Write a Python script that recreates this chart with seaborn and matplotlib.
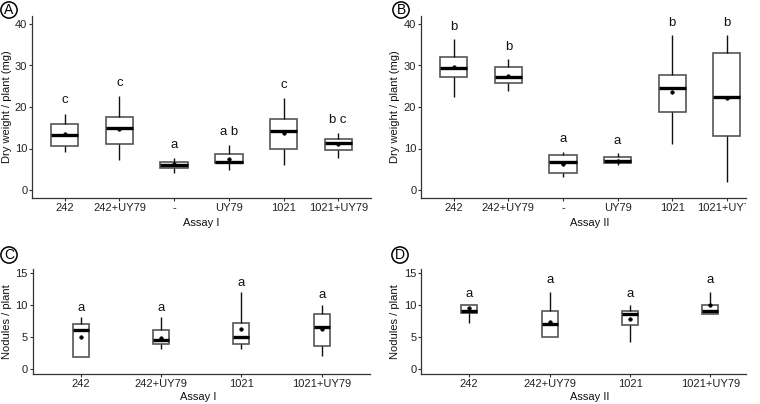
import numpy as np
import pandas as pd
import matplotlib
matplotlib.use("Agg")
import matplotlib.pyplot as plt
from matplotlib.transforms import Bbox, TransformedBbox, blended_transform_factory
import seaborn as sns

sns.set_style("white")
plt.rcParams['font.family'] = ['Liberation Sans', 'DejaVu Sans']

# ---------------- data ----------------
cats_dw = ["242", "242+UY79", "-", "UY79", "1021", "1021+UY79"]
cats_nod = ["242", "242+UY79", "1021", "1021+UY79"]

# Panel A: dry weight, Assay I
a_min = [9.2, 7.2, 4.0, 4.7, 6.1, 7.6]
a_q1 = [10.7, 11.2, 5.4, 6.6, 9.9, 9.6]
a_med = [13.2, 15.0, 6.0, 6.8, 14.1, 11.4]
a_q3 = [16.0, 17.5, 6.8, 8.6, 17.0, 12.4]
a_max = [18.4, 22.6, 7.6, 10.8, 22.1, 13.7]
a_mean = [13.5, 14.6, 6.3, 7.5, 13.8, 11.0]
a_letters = ["c", "c", "a", "a b", "c", "b c"]

# Panel B: dry weight, Assay II
b_min = [22.5, 23.9, 3.2, 6.0, 11.0, 2.0]
b_q1 = [27.3, 25.7, 4.2, 6.4, 18.9, 13.0]
b_med = [29.3, 27.3, 6.7, 7.0, 24.5, 22.5]
b_q3 = [32.1, 29.7, 8.4, 7.9, 27.7, 32.9]
b_max = [36.3, 31.5, 9.2, 8.8, 37.3, 37.3]
b_mean = [29.7, 27.5, 6.3, 7.1, 23.7, 22.1]
b_letters = ["b", "b", "a", "a", "b", "b"]

# Panel C: nodules, Assay I
c_min = [2.0, 3.1, 3.1, 2.1]
c_q1 = [2.0, 3.9, 3.9, 3.6]
c_med = [6.1, 4.6, 5.1, 6.6]
c_q3 = [7.1, 6.1, 7.3, 8.6]
c_max = [8.1, 8.1, 12.1, 10.1]
c_mean = [5.1, 4.9, 6.25, 6.3]
c_letters = ["a", "a", "a", "a"]

# Panel D: nodules, Assay II
d_min = [7.2, 5.0, 4.2, 8.6]
d_q1 = [8.8, 5.0, 6.9, 8.6]
d_med = [9.1, 7.1, 8.6, 9.1]
d_q3 = [10.0, 9.1, 9.1, 10.0]
d_max = [10.0, 12.1, 10.0, 12.1]
d_mean = [9.6, 7.4, 7.9, 10.1]
d_letters = ["a", "a", "a", "a"]

W, H = 760, 404
fig = plt.figure(figsize=(W / 100, H / 100), dpi=100)
CROP_X = 746  # the right edge of the reference picture is cropped here


def add_ax(left, top, right, bottom):
    return fig.add_axes([left / W, 1 - bottom / H, (right - left) / W, (bottom - top) / H])


def panel(ax, cats, mn, q1, md, q3, mx, mean, letters, width, ylim, yticks,
          ylabel, xlabel, letter_off, tag, tag_xy, xright, ylab_x, xlab_xy):
    rows = []
    for c, vals in zip(cats, zip(mn, q1, md, q3, mx)):
        for v in vals:
            rows.append((c, v))
    df = pd.DataFrame(rows, columns=["cat", "val"])
    sns.boxplot(data=df, x="cat", y="val", order=cats, width=width,
                whis=(0, 100), color="white", linecolor="#222222",
                linewidth=1.0, showcaps=False, fliersize=0,
                boxprops=dict(edgecolor="#555555", linewidth=1.2),
                medianprops=dict(color="black", linewidth=2.4),
                whiskerprops=dict(color="#111111", linewidth=1.0),
                ax=ax)
    mdf = pd.DataFrame({"cat": cats, "mean": mean})
    sns.pointplot(data=mdf, x="cat", y="mean", order=cats, color="black",
                  linestyle="none", markers="o", markersize=2.6,
                  markeredgewidth=0.4, errorbar=None, ax=ax)
    for i, (lab, top) in enumerate(zip(letters, mx)):
        ax.text(i, top + letter_off, lab, ha="center", va="center",
                fontsize=9.5, color="#111111")
    ax.set_xlim(-0.6, xright)
    ax.set_ylim(*ylim)
    ax.set_yticks(yticks)
    ax.set_ylabel(ylabel, fontsize=8, color="#111111")
    ax.set_xlabel(xlabel, fontsize=8, color="#111111")
    ax.yaxis.set_label_coords(ylab_x / W, 0.5,
                              transform=blended_transform_factory(fig.transFigure, ax.transAxes))
    ax.xaxis.set_label_coords(xlab_xy[0] / W, 1 - xlab_xy[1] / H, transform=fig.transFigure)
    ax.tick_params(axis="both", which="major", length=2.2, width=0.8,
                   color="#333333", labelsize=8, labelcolor="#222222",
                   direction="out", bottom=True, left=True)
    ax.tick_params(axis="x", pad=1.0)
    ax.tick_params(axis="y", pad=1.2)
    for s in ["top", "right"]:
        ax.spines[s].set_visible(False)
    for s in ["left", "bottom"]:
        ax.spines[s].set_color("#333333")
        ax.spines[s].set_linewidth(0.9)
    ax.set_facecolor("white")
    clipbox = TransformedBbox(Bbox([[0, 0], [CROP_X / W, 1]]), fig.transFigure)
    for t in ax.xaxis.get_major_ticks():
        t.label1.set_clip_box(clipbox)
        t.label1.set_clip_on(True)
    fig.text(tag_xy[0] / W, 1 - tag_xy[1] / H, tag, ha="center", va="center",
             fontsize=10, color="black",
             bbox=dict(boxstyle="circle,pad=0.08", fc="white", ec="black", lw=1.1))


axA = add_ax(32, 15.7, 371, 198.3)
axB = add_ax(421, 15.7, CROP_X, 198.3)
axC = add_ax(32.5, 268.5, 370, 374.1)
axD = add_ax(421, 268.5, CROP_X, 374.1)

# category spacing in px: A/B ~54.7, C/D ~80.4 -> right limit at the crop edge
xr_B = (CROP_X - 421) / 54.6 - 0.6
xr_D = (CROP_X - 421) / 80.4 - 0.6

panel(axA, cats_dw, a_min, a_q1, a_med, a_q3, a_max, a_mean, a_letters, 0.5,
      (-2, 42), [0, 10, 20, 30, 40], "Dry weight / plant (mg)", "Assay I", 3.2,
      "A", (9, 10), 5.6, 12.3, (201, 218))
panel(axB, cats_dw, b_min, b_q1, b_med, b_q3, b_max, b_mean, b_letters, 0.5,
      (-2, 42), [0, 10, 20, 30, 40], "Dry weight / plant (mg)", "Assay II", 3.0,
      "B", (401, 10), xr_B, 400.5, (590, 218))
panel(axC, cats_nod, c_min, c_q1, c_med, c_q3, c_max, c_mean, c_letters, 0.2,
      (-0.75, 15.75), [0, 5, 10, 15], "Nodules / plant", "Assay I", 1.45,
      "C", (9, 255), 3.6, 12.3, (198, 392))
panel(axD, cats_nod, d_min, d_q1, d_med, d_q3, d_max, d_mean, d_letters, 0.2,
      (-0.75, 15.75), [0, 5, 10, 15], "Nodules / plant", "Assay II", 1.8,
      "D", (400, 255), xr_D, 400.5, (590, 392))

fig.savefig("out.png", dpi=100, facecolor="white")
